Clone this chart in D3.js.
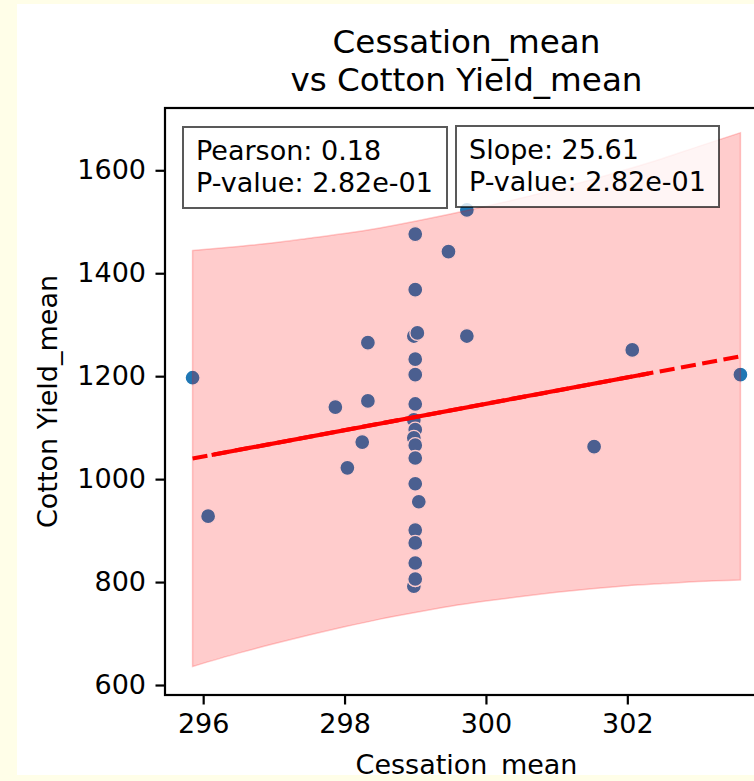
<!DOCTYPE html>
<html>
<head>
<meta charset="utf-8">
<script src="https://cdn.jsdelivr.net/npm/d3@7"></script>
<style>
  html, body { margin: 0; padding: 0; background: #fffee8; }
  svg { display: block; }
  text { font-family: "DejaVu Sans", sans-serif; fill: #000; }
</style>
</head>
<body>
<script>
// Cessation_mean (x) and Cotton Yield_mean (y) per record
const cessation = [295.85, 296.07, 297.87, 298.04, 298.25, 298.33, 298.33,
  299.0, 299.0, 298.98, 299.03, 299.0, 299.0, 299.0, 298.98, 299.0, 298.98, 299.0,
  299.0, 299.0, 299.05, 299.0, 299.0, 299.0, 298.98, 299.0, 299.0,
  299.47, 299.73, 299.73, 301.53, 302.07, 303.6];
const yieldMean = [1197, 928, 1140, 1022, 1072, 1152, 1265,
  1476, 1368, 1278, 1284, 1233, 1203, 1146, 1115, 1096, 1080, 1066,
  1041, 991, 956, 901, 876, 837, 792, 806, 806,
  1442, 1523, 1278, 1063, 1251, 1203];

// Prediction band around the fitted line
const bandX     = [295.85, 296.5, 297, 297.5, 298, 298.5, 299, 299.5, 300, 300.5, 301, 301.5, 302, 302.5, 303, 303.6];
const bandUpper = [1444, 1452, 1459, 1468, 1477, 1488, 1501, 1515, 1530, 1546, 1564, 1582, 1602, 1623, 1646, 1673];
const bandLower = [636, 662, 680, 697, 713, 728, 741, 753, 763, 772, 780, 787, 793, 797, 801, 804];

// Fitted line and statistics
const slope = 25.61;
const intercept = -6536.7;
const pearson = 0.18;
const pValue = "2.82e-01";
const lineRange = [295.85, 303.6];
const overlapRange = [296.12, 302.3];

// Axis ticks
const xTicks = [296, 298, 300, 302];
const yTicks = [600, 800, 1000, 1200, 1400, 1600];

const W = 754, H = 781;
const ax = { left: 165, right: 768, top: 108, bottom: 695 };

const svg = d3.select("body").append("svg").attr("width", W).attr("height", H);
svg.append("rect").attr("width", W).attr("height", H).attr("fill", "#fffee8");

const defs = svg.append("defs");
defs.append("clipPath").attr("id", "figClip")
  .append("rect").attr("x", 17).attr("y", 4).attr("width", W - 17).attr("height", 771);
defs.append("clipPath").attr("id", "axClip")
  .append("rect").attr("x", ax.left).attr("y", ax.top)
  .attr("width", ax.right - ax.left).attr("height", ax.bottom - ax.top);

const fig = svg.append("g").attr("clip-path", "url(#figClip)");
fig.append("rect").attr("x", 17).attr("y", 4).attr("width", W - 17).attr("height", 771).attr("fill", "#fff");

const x = d3.scaleLinear().domain([295.46, 303.99]).range([ax.left, ax.right]);
const y = d3.scaleLinear().domain([580.6, 1721]).range([ax.bottom, ax.top]);

const plot = fig.append("g").attr("clip-path", "url(#axClip)");

// scatter points
const pts = cessation.map((c, i) => ({ x: c, y: yieldMean[i] }));
plot.append("g").selectAll("circle").data(pts).join("circle")
  .attr("cx", d => x(d.x)).attr("cy", d => y(d.y)).attr("r", 7.5)
  .attr("fill", "#1f77b4").attr("stroke", "#fff").attr("stroke-width", 1.3);

// band
const band = bandX.map((b, i) => ({ x: b, lo: bandLower[i], hi: bandUpper[i] }));
plot.append("path").datum(band)
  .attr("d", d3.area().x(d => x(d.x)).y0(d => y(d.lo)).y1(d => y(d.hi)).curve(d3.curveMonotoneX))
  .attr("fill", "rgba(255,0,0,0.2)").attr("stroke", "rgba(255,0,0,0.2)").attr("stroke-width", 1.5);

// regression line
const fit = v => intercept + slope * v;
const line = d3.line().x(d => x(d)).y(d => y(fit(d)));
plot.append("path").attr("d", line(lineRange))
  .attr("fill", "none").attr("stroke", "red").attr("stroke-width", 4.1)
  .attr("stroke-dasharray", "15.1 6.5");
plot.append("path").attr("d", line(overlapRange))
  .attr("fill", "none").attr("stroke", "red").attr("stroke-width", 4.1);

// axes
const fontTick = "27px";
const gx = fig.append("g").attr("transform", `translate(0,${ax.bottom})`)
  .call(d3.axisBottom(x).tickValues(xTicks).tickSize(9.5).tickPadding(9.5).tickFormat(d3.format("d")));
const gy = fig.append("g").attr("transform", `translate(${ax.left},0)`)
  .call(d3.axisLeft(y).tickValues(yTicks).tickSize(9.5).tickPadding(9.5).tickFormat(d3.format("d")));
[gx, gy].forEach(g => {
  g.select(".domain").remove();
  g.selectAll(".tick line").attr("stroke", "#000").attr("stroke-width", 2.2);
  g.selectAll(".tick text").attr("font-size", fontTick).attr("font-family", "DejaVu Sans").attr("fill", "#000");
});

// spines
const spines = fig.append("g").attr("stroke", "#000").attr("stroke-width", 2.2).attr("fill", "none");
spines.append("rect").attr("x", ax.left).attr("y", ax.top)
  .attr("width", ax.right - ax.left).attr("height", ax.bottom - ax.top);

// title and axis labels
const title = fig.append("text").attr("text-anchor", "middle").attr("font-size", "32.6px");
title.append("tspan").attr("x", (ax.left + ax.right) / 2).attr("y", 53).text("Cessation_mean");
title.append("tspan").attr("x", (ax.left + ax.right) / 2).attr("y", 91).text("vs Cotton Yield_mean");

fig.append("text").attr("text-anchor", "middle").attr("font-size", "27px")
  .attr("x", (ax.left + ax.right) / 2).attr("y", 774).text("Cessation_mean");
fig.append("text").attr("text-anchor", "middle").attr("font-size", "27px")
  .attr("transform", `translate(57,${(ax.top + ax.bottom) / 2}) rotate(-90)`).text("Cotton Yield_mean");

// stat boxes
function statBox(bx, by, bw, bh, lines) {
  const g = fig.append("g");
  g.append("rect").attr("x", bx).attr("y", by).attr("width", bw).attr("height", bh)
    .attr("fill", "rgba(255,255,255,0.8)").attr("stroke", "rgba(0,0,0,0.65)").attr("stroke-width", 2);
  lines.forEach((t, i) => {
    g.append("text").attr("x", bx + 13).attr("y", by + 33 + i * 32)
      .attr("font-size", "27px").text(t);
  });
}
statBox(183, 127, 264, 81, [`Pearson: ${pearson.toFixed(2)}`, `P-value: ${pValue}`]);
statBox(456, 126, 263, 81, [`Slope: ${slope.toFixed(2)}`, `P-value: ${pValue}`]);
</script>
</body>
</html>
